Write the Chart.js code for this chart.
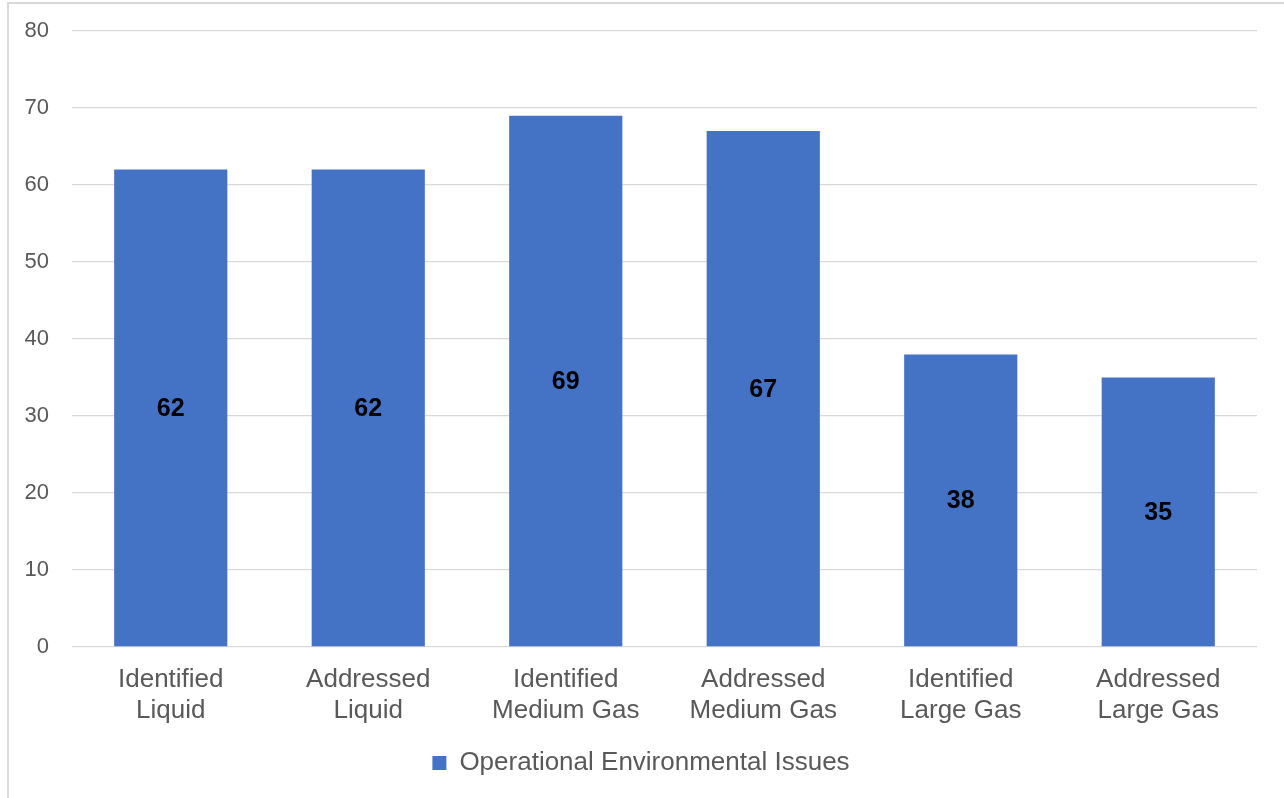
<!DOCTYPE html>
<html>
<head>
<meta charset="utf-8">
<script src="https://cdn.jsdelivr.net/npm/chart.js@4/dist/chart.umd.min.js"></script>
<style>
  html, body { margin: 0; padding: 0; background: #fff; overflow: hidden; }
  .frame {
    position: absolute; left: 7px; top: 2px; width: 1300px; height: 820px;
    border: 2px solid #d9d9d9; box-sizing: border-box;
  }
  .wrap { position: absolute; left: 0; top: 0; width: 1284px; height: 798px; }
</style>
</head>
<body>
<div class="frame"></div>
<div class="wrap"><canvas id="chart"></canvas></div>
<script>
// data
const categories = [
  ["Identified", "Liquid"],
  ["Addressed", "Liquid"],
  ["Identified", "Medium Gas"],
  ["Addressed", "Medium Gas"],
  ["Identified", "Large Gas"],
  ["Addressed", "Large Gas"]
];
const issueCounts = [62, 62, 69, 67, 38, 35];
const seriesName = "Operational Environmental Issues";
const yTicks = { min: 0, max: 80, step: 10 };

const colors = {
  bar: "#4472C4",
  text: "#595959",
  grid: "#d9d9d9"
};

Chart.defaults.font.family = "'Liberation Sans', Arial, sans-serif";
Chart.defaults.color = colors.text;

// centred value labels inside each bar
const barValueLabels = {
  id: "barValueLabels",
  afterDatasetsDraw(chart) {
    const { ctx } = chart;
    const meta = chart.getDatasetMeta(0);
    ctx.save();
    ctx.font = "bold 25px 'Liberation Sans', Arial, sans-serif";
    ctx.fillStyle = "#000";
    ctx.textAlign = "center";
    ctx.textBaseline = "middle";
    meta.data.forEach((bar, i) => {
      const v = chart.data.datasets[0].data[i];
      ctx.fillText(String(v), bar.x, (bar.y + bar.base) / 2 + 1);
    });
    ctx.restore();
  }
};

new Chart(document.getElementById("chart"), {
  type: "bar",
  data: {
    labels: categories,
    datasets: [{
      label: seriesName,
      data: issueCounts,
      backgroundColor: colors.bar,
      barPercentage: 0.573,
      categoryPercentage: 1
    }]
  },
  options: {
    responsive: true,
    maintainAspectRatio: false,
    animation: false,
    layout: { autoPadding: false, padding: { left: 25, right: 27, top: 31, bottom: 12 } },
    scales: {
      x: {
        grid: { display: false, drawTicks: false },
        border: { display: false },
        ticks: { font: { size: 26 }, color: colors.text, padding: 17, maxRotation: 0 },
        afterFit: (s) => { s.height = 93; s.paddingLeft = 0; s.paddingRight = 0; }
      },
      y: {
        min: yTicks.min,
        max: yTicks.max,
        grid: { color: colors.grid, lineWidth: 1.3, drawTicks: false },
        border: { display: false },
        ticks: { stepSize: yTicks.step, font: { size: 22 }, color: colors.text, padding: 23 },
        afterFit: (s) => { s.width = 47; s.paddingTop = 0; s.paddingBottom = 0; }
      }
    },
    plugins: {
      legend: {
        position: "bottom",
        labels: { boxWidth: 14, boxHeight: 14, font: { size: 26 }, color: colors.text, padding: 10 }
      },
      tooltip: { enabled: false }
    }
  },
  plugins: [barValueLabels]
});
</script>
</body>
</html>
